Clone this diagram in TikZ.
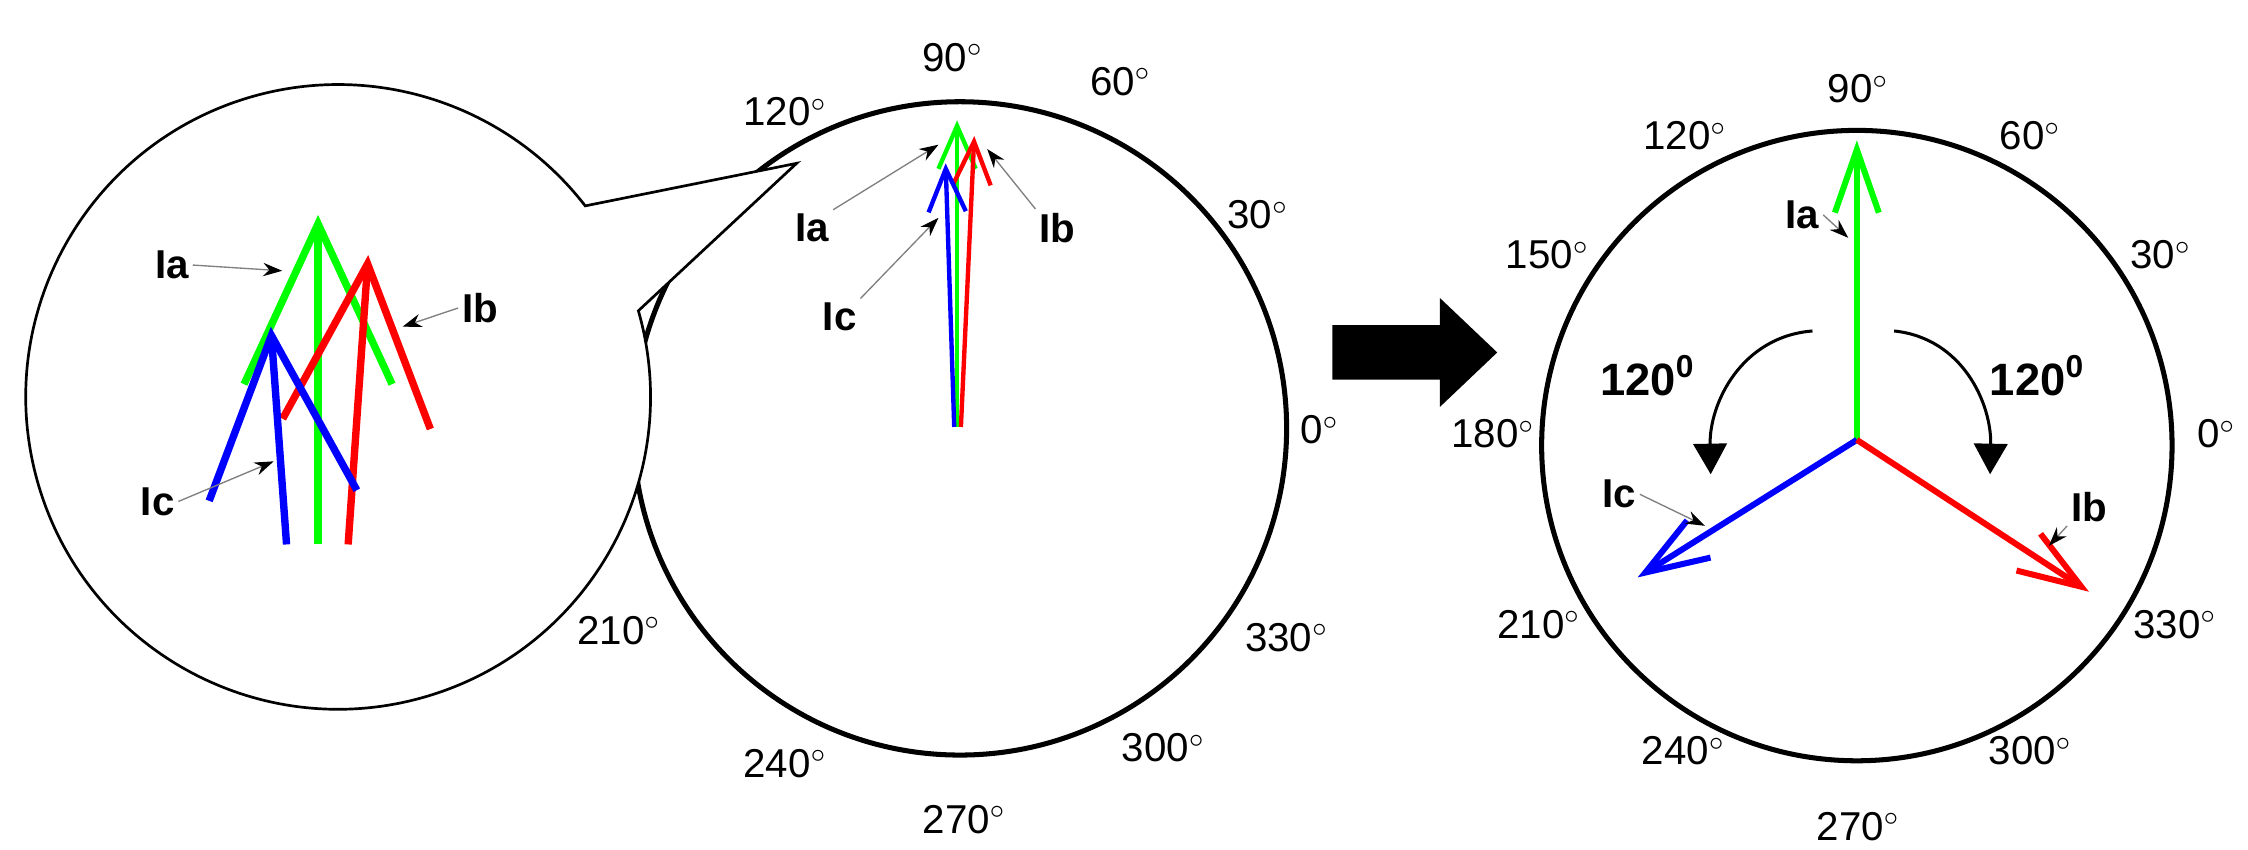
\documentclass[tikz,border=0pt]{standalone}
\usepackage{fontspec}
\setmainfont{Liberation Sans}
\usetikzlibrary{arrows.meta, calc}
\definecolor{phaseA}{RGB}{0,255,0}
\definecolor{phaseB}{RGB}{255,0,0}
\definecolor{phaseC}{RGB}{0,0,255}

\begin{document}
\begin{tikzpicture}[
    x=0.15mm, y=-0.15mm,
    ring/.style={line width=1.5pt},
    bubble/.style={line width=0.8pt, fill=white},
    degree/.style={font=\fontsize{12}{14}\selectfont},
    tag/.style={font=\fontsize{12}{14}\selectfont\bfseries, inner sep=1pt},
    angletag/.style={font=\fontsize{13.5}{16}\selectfont\bfseries},
    pointer/.style={-{Stealth[length=2mm, width=1.4mm, color=black]}, gray, line width=0.4pt},
    bigvec/.style={line width=2.2pt, -{Straight Barb[length=16.8mm, width=15.5mm]}},
    smallvec/.style={line width=1.3pt, -{Straight Barb[length=4.5mm, width=3.9mm]}},
    vec/.style={line width=1.8pt, -{Straight Barb[length=6.6mm, width=4.6mm]}},
    turn/.style={line width=0.9pt, -{Triangle[length=3.2mm, width=3.5mm]}}
]
\useasboundingbox (0,0) rectangle (1569,593);

% Middle ring: measured phasors
\coordinate (mid) at (670,299);
\draw[ring] (mid) circle[radius=228];
\foreach \a/\x/\y in {90/665/40, 60/782/57, 120/548/78, 30/878/150, 0/921/300,
                      330/898/445, 300/812/522, 270/673/572, 240/548/533, 210/432/440}
    \node[degree] at (\x,\y) {\a$^{\circ}$};

% Zoom bubble
\coordinate (zc) at (236,277);
\coordinate (wtip) at (556,114);
\filldraw[bubble] ($(zc)+(-16:218)$) arc[start angle=-16, end angle=322.3, radius=218] -- (wtip) -- cycle;

\coordinate (za0) at (222,380);
\coordinate (za) at (222,150);
\coordinate (zb0) at (243,380);
\coordinate (zb) at (257,178);
\coordinate (zcc0) at (200,380);
\coordinate (zcc) at (189,228);
\draw[bigvec, phaseA] (za0) -- (za);
\draw[bigvec, phaseB] (zb0) -- (zb);
\draw[bigvec, phaseC] (zcc0) -- (zcc);

\node[tag] (zIa) at (120,185) {Ia};
\node[tag] (zIb) at (335,215) {Ib};
\node[tag] (zIc) at (110,350) {Ic};
\coordinate (zpa) at (197,189);
\coordinate (zpb) at (281,228);
\coordinate (zpc) at (191,322);
\draw[pointer] (zIa.east) -- (zpa);
\draw[pointer] (zIb.west) -- (zpb);
\draw[pointer] (zIc.east) -- (zpc);

% Phasors inside the middle ring
\coordinate (m0) at (668,298);
\coordinate (ma) at (668,84);
\coordinate (mb) at (680,95);
\coordinate (mc) at (660,114);
\draw[smallvec, phaseA] (m0) -- (ma);
\draw[smallvec, phaseB] ([xshift=0.4mm]m0) -- (mb);
\draw[smallvec, phaseC] ([xshift=-0.3mm]m0) -- (mc);

\node[tag] (mIa) at (567,159) {Ia};
\node[tag] (mIb) at (738,159) {Ib};
\node[tag] (mIc) at (586,221) {Ic};
\coordinate (mpa) at (655,101);
\coordinate (mpb) at (689,104);
\coordinate (mpc) at (655,152);
\draw[pointer] (mIa.north east) -- (mpa);
\draw[pointer] (mIb.north west) -- (mpb);
\draw[pointer] (mIc.north east) -- (mpc);

% Block arrow
\fill (930,227) -- (1005,227) -- (1005,208) -- (1045,246) -- (1005,284) -- (1005,265) -- (930,265) -- cycle;

% Right ring: balanced phasors
\coordinate (rgt) at (1296,311);
\draw[ring] (rgt) circle[radius=220];
\foreach \a/\x/\y in {90/1297/62, 120/1176/95, 60/1417/95, 150/1080/178, 30/1508/178,
                      180/1042/303, 0/1547/303, 210/1074/436, 330/1518/436,
                      240/1175/524, 300/1417/524, 270/1297/577}
    \node[degree] at (\x,\y) {\a$^{\circ}$};

\coordinate (r0) at (1296,307);
\coordinate (ra) at (1296,98);
\coordinate (rb) at (1458,413);
\coordinate (rc) at (1143,403);
\draw[vec, phaseA] (r0) -- (ra);
\draw[vec, phaseC] (r0) -- (rc);
\draw[vec, phaseB] (r0) -- (rb);

\node[tag] (rIa) at (1258,150) {Ia};
\node[tag] (rIb) at (1458,354) {Ib};
\node[tag] (rIc) at (1130,345) {Ic};
\coordinate (rpa) at (1290,166);
\coordinate (rpb) at (1430,381);
\coordinate (rpc) at (1190,367);
\draw[pointer] (rIa.east) -- (rpa);
\draw[pointer] (rIb.south west) -- (rpb);
\draw[pointer] (rIc.east) -- (rpc);

\coordinate (tl0) at (1265,231);
\coordinate (tl1) at (1194,331);
\coordinate (tr0) at (1322,231);
\coordinate (tr1) at (1389,331);
\draw[turn] (tl0) .. controls (1215,235) and (1193,282) .. (tl1);
\draw[turn] (tr0) .. controls (1370,236) and (1390,282) .. (tr1);
\node[angletag] (sl) at (1150,262) {120\textsuperscript{0}};
\node[angletag] (sr) at (1422,262) {120\textsuperscript{0}};

\end{tikzpicture}
\end{document}
